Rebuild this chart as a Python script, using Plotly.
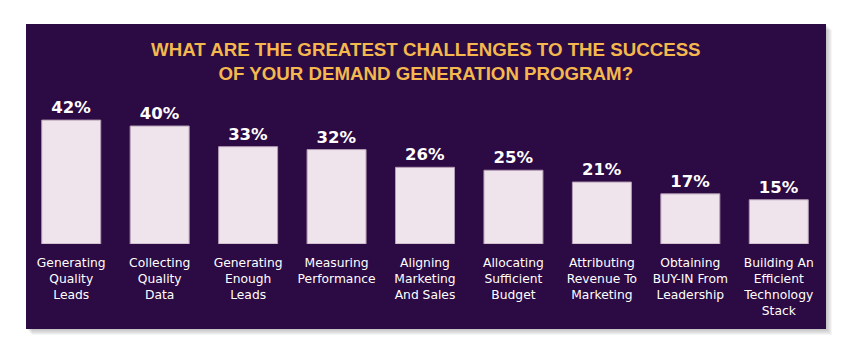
import plotly.graph_objects as go

categories = [
    "Generating<br>Quality<br>Leads",
    "Collecting<br>Quality<br>Data",
    "Generating<br>Enough<br>Leads",
    "Measuring<br>Performance",
    "Aligning<br>Marketing<br>And Sales",
    "Allocating<br>Sufficient<br>Budget",
    "Attributing<br>Revenue To<br>Marketing",
    "Obtaining<br>BUY-IN From<br>Leadership",
    "Building An<br>Efficient<br>Technology<br>Stack",
]
values = [42, 40, 33, 32, 26, 25, 21, 17, 15]
title_text = "WHAT ARE THE GREATEST CHALLENGES TO THE SUCCESS<br>OF YOUR DEMAND GENERATION PROGRAM?"

W, H = 852, 353
ML, MR, MT, MB = 27, 29, 100, 109
PW = W - ML - MR
PH = H - MT - MB

def px(x):
    return (x - ML) / PW

def py(y):
    return (H - MB - y) / PH

PANEL = "#2c0a43"

fig = go.Figure()
fig.add_trace(go.Bar(
    x=list(range(len(values))),
    y=values,
    marker=dict(color="#efe4ec", line=dict(color="#b49cb4", width=1)),
    text=[f"{v}%" for v in values],
    textposition="outside",
    textfont=dict(family="DejaVu Sans", size=16.5, color="white", weight="bold"),
    cliponaxis=False,
    hoverinfo="skip",
))

shapes = []
# soft shadow
for o in range(1, 7):
    shapes.append(dict(type="rect", xref="paper", yref="paper", layer="below",
                       x0=px(26 + o), x1=px(826 + o), y0=py(329 + o), y1=py(24 + o),
                       fillcolor="rgba(0,0,0,0.04)", line=dict(width=0)))
shapes.append(dict(type="rect", xref="paper", yref="paper", layer="below",
                   x0=px(26), x1=px(826), y0=py(329), y1=py(24),
                   fillcolor=PANEL, line=dict(width=0)))

fig.update_layout(
    width=W, height=H,
    margin=dict(l=ML, r=MR, t=MT, b=MB),
    paper_bgcolor="white",
    plot_bgcolor="rgba(0,0,0,0)",
    showlegend=False,
    bargap=0.333,
    shapes=shapes,
    annotations=[dict(
        text=title_text, xref="paper", yref="paper",
        x=px(425.5), y=py(61.5), xanchor="center", yanchor="middle",
        showarrow=False, align="center",
        font=dict(family="Liberation Sans, Arial", size=18.7, color="#f4b84e", weight="bold"),
    )],
    xaxis=dict(
        tickmode="array", tickvals=list(range(len(values))), ticktext=categories,
        showgrid=False, zeroline=False, showline=False, ticks="",
        ticklabelstandoff=10,
        tickfont=dict(family="DejaVu Sans", size=12.3, color="white"),
        range=[-0.5, len(values) - 0.5], fixedrange=True,
    ),
    yaxis=dict(
        range=[0, PH / 2.95], visible=False, showgrid=False, zeroline=False, fixedrange=True,
    ),
)

fig.write_html("out.html")
